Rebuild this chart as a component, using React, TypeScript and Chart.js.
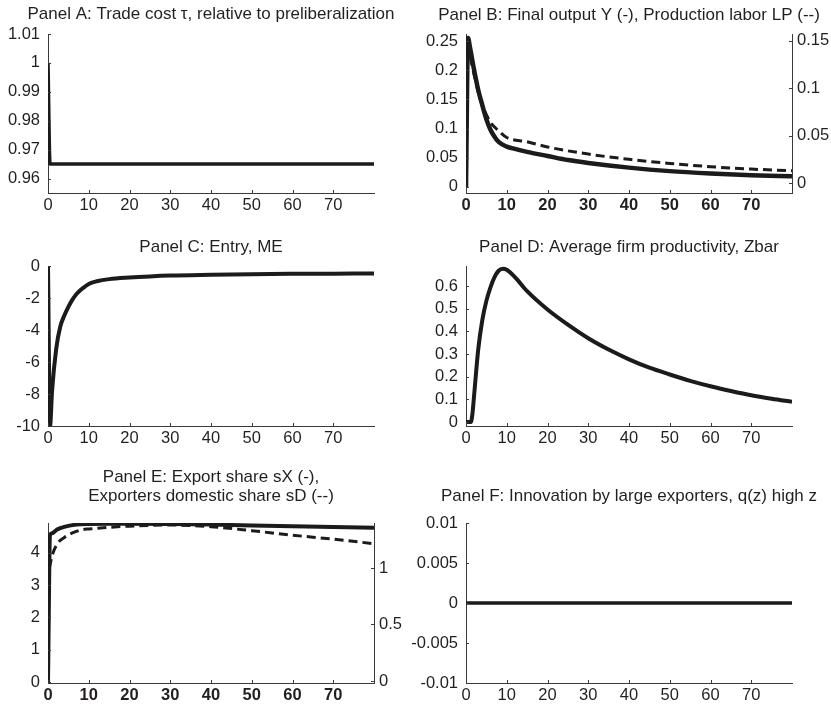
import React, { useEffect, useRef } from "react";
import { Chart, registerables } from "chart.js";
Chart.register(...registerables);

// ---------- data ----------
const X_TICKS = [0, 10, 20, 30, 40, 50, 60, 70];

// Panel A: trade cost
const A_T = [0, 0.5, 80];
const A_TAU = [1, 0.965, 0.965];
const A_Y_TICKS = [0.96, 0.97, 0.98, 0.99, 1, 1.01];

// Panel B: final output Y (left), production labor LP (right)
const B_T_Y = [0, 0.5, 1, 2, 3, 4, 5, 6, 7, 8, 10, 12, 15, 20, 25, 30, 40, 50, 60, 70, 80];
const B_Y = [0, 0.255, 0.238, 0.2, 0.166, 0.14, 0.116, 0.098, 0.086, 0.077, 0.069, 0.065, 0.06, 0.053, 0.046, 0.041, 0.033, 0.027, 0.023, 0.02, 0.018];
const B_T_LP = [0, 0.5, 1, 2, 3, 4, 5, 6, 7, 8, 10, 15, 20, 30, 40, 50, 60, 70, 80];
const B_LP = [0, 0.14, 0.133, 0.114, 0.096, 0.082, 0.072, 0.064, 0.059, 0.055, 0.048, 0.0435, 0.038, 0.0305, 0.025, 0.0207, 0.0172, 0.0147, 0.013];
const B_YL_TICKS = [0, 0.05, 0.1, 0.15, 0.2, 0.25];
const B_YR_TICKS = [0, 0.05, 0.1, 0.15];

// Panel C: entry
const C_T = [0, 0.5, 1, 2, 3, 4, 5, 6, 7, 8, 9, 10, 12, 15, 20, 25, 30, 40, 50, 60, 70, 80];
const C_ME = [0, -10, -7.8, -5.2, -3.8, -3.1, -2.55, -2.1, -1.75, -1.5, -1.3, -1.12, -0.95, -0.82, -0.72, -0.65, -0.6, -0.55, -0.51, -0.49, -0.48, -0.47];
const C_Y_TICKS = [-10, -8, -6, -4, -2, 0];

// Panel D: average firm productivity
const D_T = [0, 1.2, 1.6, 2, 3, 4, 5, 6, 7, 8, 9, 10, 12, 15, 20, 25, 30, 35, 40, 45, 50, 55, 60, 65, 70, 75, 80];
const D_ZBAR = [0, 0, 0.04, 0.12, 0.32, 0.45, 0.535, 0.595, 0.64, 0.668, 0.677, 0.672, 0.64, 0.578, 0.497, 0.43, 0.37, 0.32, 0.277, 0.24, 0.21, 0.182, 0.158, 0.137, 0.118, 0.103, 0.09];
const D_Y_TICKS = [0, 0.1, 0.2, 0.3, 0.4, 0.5, 0.6];

// Panel E: export share sX (left), exporters domestic share sD (right)
const E_T_SX = [0, 0.5, 1, 2, 3, 4, 5, 7, 10, 15, 20, 30, 40, 50, 60, 70, 80];
const E_SX = [0, 4.55, 4.6, 4.7, 4.76, 4.8, 4.83, 4.87, 4.89, 4.9, 4.9, 4.89, 4.87, 4.84, 4.82, 4.8, 4.77];
const E_T_SD = [0.3, 1.2, 2.4, 4, 6, 8.5, 10, 15, 20, 30, 40, 50, 60, 70, 80];
const E_SD = [1.0, 1.13, 1.22, 1.27, 1.31, 1.34, 1.345, 1.36, 1.37, 1.38, 1.365, 1.33, 1.29, 1.255, 1.215];
const E_YL_TICKS = [0, 1, 2, 3, 4];
const E_YR_TICKS = [0, 0.5, 1];

// Panel F: innovation by large exporters
const F_T = [0, 80];
const F_Q = [0, 0];
const F_Y_TICKS = [-0.01, -0.005, 0, 0.005, 0.01];

// ---------- styling ----------
const LINE = "#1b1b1b";
const AXIS = "#3a3a3a";
const TEXT = "#231f20";
const FONT = "'Liberation Sans', Arial, Helvetica, sans-serif";
const TICK_SIZE = 16.5;
const TITLE_SIZE = 17;

type Series = { t: number[]; v: number[]; axis: "y" | "y2"; dash?: boolean; width: number };
type AxisSpec = { min: number; max: number; ticks: number[] };
type Panel = {
  key: string;
  box: { left: number; top: number; w: number; h: number };
  area: { L: number; R: number; T: number; B: number };
  title: string[];
  titleY: number[];
  series: Series[];
  y: AxisSpec;
  y2?: AxisSpec;
  xBold?: boolean;
};

const fmt = (v: number) => String(Math.round(v * 100000) / 100000);

const PANELS: Panel[] = [
  {
    key: "A",
    box: { left: 0, top: 0, w: 415, h: 225 },
    area: { L: 48, R: 374, T: 34, B: 193 },
    title: ["Panel A: Trade cost τ, relative to preliberalization"],
    titleY: [14.5],
    series: [{ t: A_T, v: A_TAU, axis: "y", width: 3.5 }],
    y: { min: 0.955, max: 1.01, ticks: A_Y_TICKS },
  },
  {
    key: "B",
    box: { left: 400, top: 0, w: 431, h: 225 },
    area: { L: 66, R: 392, T: 34, B: 193 },
    title: ["Panel B: Final output Y (-), Production labor LP (--)"],
    titleY: [15.5],
    series: [
      { t: B_T_LP, v: B_LP, axis: "y2", dash: true, width: 3 },
      { t: B_T_Y, v: B_Y, axis: "y", width: 4.5 },
    ],
    y: { min: -0.0105, max: 0.262, ticks: B_YL_TICKS },
    y2: { min: -0.0105, max: 0.157, ticks: B_YR_TICKS },
    xBold: true,
  },
  {
    key: "C",
    box: { left: 0, top: 225, w: 415, h: 240 },
    area: { L: 48, R: 374, T: 41, B: 201 },
    title: ["Panel C: Entry, ME"],
    titleY: [22],
    series: [{ t: C_T, v: C_ME, axis: "y", width: 4 }],
    y: { min: -10, max: 0, ticks: C_Y_TICKS },
  },
  {
    key: "D",
    box: { left: 400, top: 225, w: 431, h: 240 },
    area: { L: 66, R: 392, T: 41, B: 201 },
    title: ["Panel D: Average firm productivity, Zbar"],
    titleY: [22],
    series: [{ t: D_T, v: D_ZBAR, axis: "y", width: 4 }],
    y: { min: -0.0175, max: 0.689, ticks: D_Y_TICKS },
  },
  {
    key: "E",
    box: { left: 0, top: 465, w: 415, h: 239 },
    area: { L: 48, R: 374, T: 58, B: 218 },
    title: ["Panel E: Export share sX (-),", "Exporters domestic share sD (--)"],
    titleY: [12.5, 31.5],
    series: [
      { t: E_T_SD, v: E_SD, axis: "y2", dash: true, width: 3 },
      { t: E_T_SX, v: E_SX, axis: "y", width: 4 },
    ],
    y: { min: -0.03, max: 4.92, ticks: E_YL_TICKS },
    y2: { min: -0.018, max: 1.398, ticks: E_YR_TICKS },
    xBold: true,
  },
  {
    key: "F",
    box: { left: 400, top: 465, w: 431, h: 239 },
    area: { L: 66, R: 392, T: 58, B: 218 },
    title: ["Panel F: Innovation by large exporters, q(z) high z"],
    titleY: [31],
    series: [{ t: F_T, v: F_Q, axis: "y", width: 3.5 }],
    y: { min: -0.01, max: 0.01, ticks: F_Y_TICKS },
  },
];

const inTicks = {
  id: "inTicks",
  afterDraw(chart: any) {
    const ctx = chart.ctx;
    const a = chart.chartArea;
    ctx.save();
    ctx.strokeStyle = AXIS;
    ctx.lineWidth = 1;
    for (const id of Object.keys(chart.scales)) {
      const s = chart.scales[id];
      for (const t of s.ticks) {
        const p = Math.round(s.getPixelForValue(t.value)) + 0.5;
        ctx.beginPath();
        if (s.isHorizontal()) {
          ctx.moveTo(p, a.bottom);
          ctx.lineTo(p, a.bottom - 3);
        } else if (s.position === "left") {
          ctx.moveTo(a.left, p);
          ctx.lineTo(a.left + 3, p);
        } else {
          ctx.moveTo(a.right, p);
          ctx.lineTo(a.right - 3, p);
        }
        ctx.stroke();
      }
    }
    ctx.restore();
  },
};

// Panel title centred over the plot area (MATLAB style)
const panelTitle = {
  id: "panelTitle",
  afterDraw(chart: any, _args: any, opts: any) {
    const ctx = chart.ctx;
    const a = chart.chartArea;
    ctx.save();
    ctx.fillStyle = TEXT;
    ctx.font = `${TITLE_SIZE}px ${FONT}`;
    ctx.textAlign = "center";
    ctx.textBaseline = "middle";
    (opts.lines || []).forEach((line: string, i: number) => {
      ctx.fillText(line, (a.left + a.right) / 2, opts.ys[i]);
    });
    ctx.restore();
  },
};

function yAxis(spec: AxisSpec, position: "left" | "right", width: number, pad: number) {
  return {
    type: "linear",
    position,
    min: spec.min,
    max: spec.max,
    afterBuildTicks: (s: any) => {
      s.ticks = spec.ticks.map((v) => ({ value: v }));
    },
    afterFit: (s: any) => {
      s.width = width;
    },
    grid: { display: false, drawTicks: false },
    border: { display: true, color: AXIS, width: 1 },
    ticks: {
      autoSkip: false,
      padding: pad,
      color: TEXT,
      font: { family: FONT, size: TICK_SIZE },
      callback: (v: any) => fmt(Number(v)),
    },
  };
}

function PanelChart({ p }: { p: Panel }) {
  const ref = useRef<HTMLCanvasElement | null>(null);
  useEffect(() => {
    if (!ref.current) return;
    const { w, h } = p.box;
    const { L, R, T, B } = p.area;
    const scales: any = {
      x: {
        type: "linear",
        min: 0,
        max: 80,
        afterBuildTicks: (s: any) => {
          s.ticks = X_TICKS.map((v) => ({ value: v }));
        },
        afterFit: (s: any) => {
          s.height = h - B;
        },
        grid: { display: false, drawTicks: false },
        border: { display: true, color: AXIS, width: 1 },
        ticks: {
          autoSkip: false,
          maxRotation: 0,
          padding: 3,
          color: TEXT,
          font: { family: FONT, size: TICK_SIZE, weight: p.xBold ? "bold" : "normal" },
          callback: (v: any) => fmt(Number(v)),
        },
      },
      y: yAxis(p.y, "left", L, 8),
    };
    if (p.y2) scales.y2 = yAxis(p.y2, "right", w - R, 5);

    const chart = new Chart(ref.current, {
      type: "line",
      data: {
        datasets: p.series.map((s) => ({
          data: s.t.map((t, i) => ({ x: t, y: s.v[i] })),
          yAxisID: s.axis,
          borderColor: LINE,
          backgroundColor: LINE,
          borderWidth: s.width,
          borderDash: s.dash ? [9, 5] : [],
          pointRadius: 0,
          fill: false,
          cubicInterpolationMode: "monotone",
          borderCapStyle: "butt",
          borderJoinStyle: "round",
        })),
      },
      options: {
        responsive: false,
        animation: false,
        parsing: false,
        normalized: true,
        layout: { padding: { left: 0, top: T, bottom: 0, right: p.y2 ? 0 : w - R } },
        plugins: {
          legend: { display: false },
          tooltip: { enabled: false },
          title: { display: false },
          panelTitle: { lines: p.title, ys: p.titleY },
        },
        scales,
      } as any,
      plugins: [inTicks, panelTitle],
    });
    return () => chart.destroy();
  }, [p]);
  return (
    <canvas
      ref={ref}
      width={p.box.w}
      height={p.box.h}
      style={{ position: "absolute", left: p.box.left, top: p.box.top, width: p.box.w, height: p.box.h }}
    />
  );
}

export default function App() {
  return (
    <div style={{ position: "absolute", left: 0, top: 0, width: 831, height: 704, background: "#fff" }}>
      {PANELS.map((p) => (
        <PanelChart key={p.key} p={p} />
      ))}
    </div>
  );
}
